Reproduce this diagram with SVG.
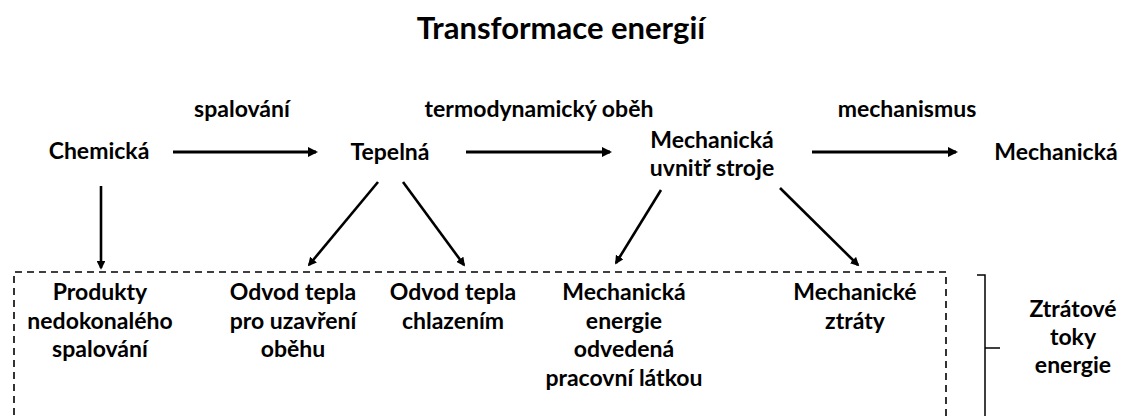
<svg xmlns="http://www.w3.org/2000/svg" width="1127" height="416" viewBox="0 0 1127 416">
<style>
text{font-family:Lato,"Open Sans",sans-serif;font-weight:bold;font-size:23px;fill:#000;text-anchor:middle}
.title{font-size:31px}
.c{stroke:#000;stroke-width:3;fill:none}
.d{stroke:#000;stroke-width:2.6;fill:none}
.box{stroke:#000;stroke-width:1.6;fill:none;stroke-dasharray:7 5}
.br{stroke:#000;stroke-width:1.5;fill:none}
</style>
<defs>
<marker id="ah" viewBox="0 0 10 10" refX="8" refY="5" markerWidth="3.4" markerHeight="3.4" orient="auto">
<path d="M0,0 L10,5 L0,10 z" fill="#000"/>
</marker>
</defs>
<rect width="1127" height="416" fill="#fff"/>
<g id="title"><text class="title" x="561" y="39">Transformace energií</text></g>
<g id="labels">
<text x="242" y="117">spalování</text>
<text x="539" y="117">termodynamický oběh</text>
<text x="907" y="117">mechanismus</text>
</g>
<g id="n-chemicka"><text x="99" y="159">Chemická</text></g>
<g id="n-tepelna"><text x="390" y="160">Tepelná</text></g>
<g id="n-mech-stroj"><text x="712" y="148">Mechanická</text><text x="712" y="176">uvnitř stroje</text></g>
<g id="n-mech"><text x="1056" y="160">Mechanická</text></g>
<g id="connectors">
<line class="c" x1="173" y1="152" x2="316" y2="152" marker-end="url(#ah)"/>
<line class="c" x1="466" y1="152" x2="610" y2="152" marker-end="url(#ah)"/>
<line class="c" x1="812" y1="152" x2="956" y2="152" marker-end="url(#ah)"/>
<line class="d" x1="101" y1="186" x2="101" y2="268" marker-end="url(#ah)"/>
<line class="d" x1="378" y1="182" x2="309" y2="265" marker-end="url(#ah)"/>
<line class="d" x1="403" y1="182" x2="464" y2="265" marker-end="url(#ah)"/>
<line class="d" x1="661" y1="190" x2="616" y2="263" marker-end="url(#ah)"/>
<line class="d" x1="780" y1="188" x2="858" y2="265" marker-end="url(#ah)"/>
</g>
<g id="losses-box"><path class="box" d="M946,416 V272 H14 V416"/></g>
<g id="n-produkty"><text x="100" y="300">Produkty</text><text x="100" y="329">nedokonalého</text><text x="100" y="357">spalování</text></g>
<g id="n-odvod1"><text x="293" y="300">Odvod tepla</text><text x="293" y="329">pro uzavření</text><text x="293" y="357">oběhu</text></g>
<g id="n-odvod2"><text x="453" y="300">Odvod tepla</text><text x="453" y="329">chlazením</text></g>
<g id="n-mech-energie"><text x="624" y="300">Mechanická</text><text x="624" y="329">energie</text><text x="624" y="357">odvedená</text><text x="624" y="386">pracovní látkou</text></g>
<g id="n-mech-ztraty"><text x="855" y="300">Mechanické</text><text x="855" y="329">ztráty</text></g>
<g id="bracket"><path class="br" d="M977,275 H985 V416 M985,348 H1000"/></g>
<g id="n-ztratove"><text x="1073" y="317">Ztrátové</text><text x="1073" y="345">toky</text><text x="1073" y="373">energie</text></g>
</svg>
